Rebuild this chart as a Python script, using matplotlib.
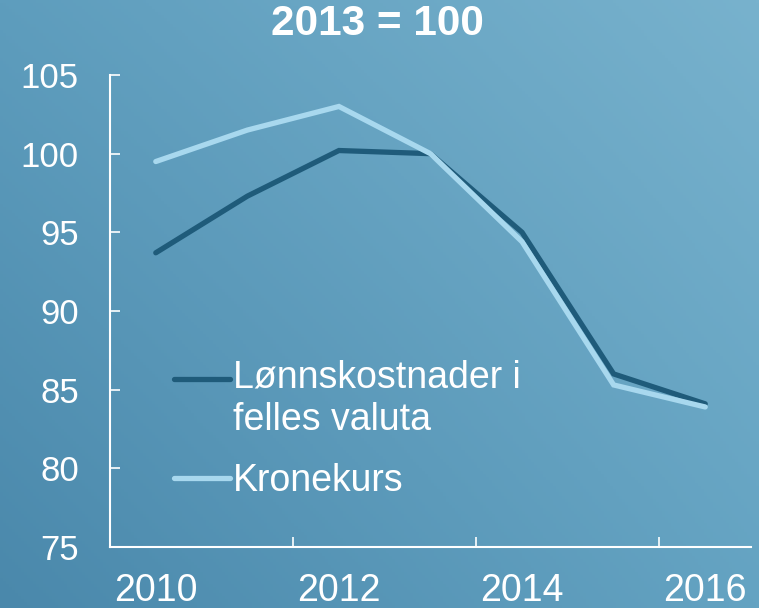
import numpy as np
import matplotlib
matplotlib.use("Agg")
import matplotlib.pyplot as plt
from matplotlib.legend_handler import HandlerLine2D
from matplotlib.colors import to_rgb

plt.rcParams['font.family'] = ['Liberation Sans', 'DejaVu Sans']

# ---- data ----
years = ["2010", "2011", "2012", "2013", "2014", "2015", "2016"]
lonnskost = [93.7, 97.3, 100.2, 100.0, 95.0, 86.0, 84.1]
kronekurs = [99.5, 101.5, 103.0, 100.0, 94.4, 85.3, 83.9]
series_labels = ["Lønnskostnader i\nfelles valuta", "Kronekurs"]
title = "2013 = 100"
yticks = [75, 80, 85, 90, 95, 100, 105]

dark = "#1F5B7A"
light = "#A8D8EE"
white = "white"

fig = plt.figure(figsize=(7.59, 6.08), dpi=100)

# background gradient
bg = fig.add_axes([0, 0, 1, 1], zorder=-10)
bg.set_axis_off()
tl, tr = np.array(to_rgb("#5E9DBD")), np.array(to_rgb("#78B2CD"))
bl, br = np.array(to_rgb("#4A88AB")), np.array(to_rgb("#64A3C2"))
ny, nx = 200, 250
u = np.linspace(0, 1, nx)[None, :, None]
v = np.linspace(0, 1, ny)[:, None, None]
img = (1 - v) * ((1 - u) * tl + u * tr) + v * ((1 - u) * bl + u * br)
bg.imshow(img, aspect='auto', extent=[0, 1, 0, 1], origin='upper')

ax = fig.add_axes([110/759, 61/608, 641/759, 472/608])
ax.set_facecolor('none')
x = np.arange(len(years))
l1, = ax.plot(x, lonnskost, color=dark, lw=3.8, solid_capstyle='round', solid_joinstyle='miter', zorder=3)
l2, = ax.plot(x, kronekurs, color=light, lw=3.8, solid_capstyle='round', solid_joinstyle='miter', zorder=4)

ax.set_xlim(-0.5, len(years) - 0.5)
ax.set_ylim(75, 105)
ax.set_yticks(yticks)
ax.set_yticklabels([str(t) for t in yticks])
ax.tick_params(axis='y', direction='in', length=7.5, width=1.2, colors=white,
               labelsize=25, pad=22.5)

# major ticks between category pairs, labels at every other category
ax.set_xticks([1.5, 3.5, 5.5])
ax.set_xticklabels([])
ax.set_xticks(x[::2], minor=True)
ax.set_xticklabels(years[::2], minor=True)
ax.tick_params(axis='x', which='major', direction='in', length=7.5, width=1.2, colors=white)
ax.tick_params(axis='x', which='minor', length=0, colors=white, labelsize=27, pad=18.5)

for s in ['top', 'right']:
    ax.spines[s].set_visible(False)
for s in ['left', 'bottom']:
    ax.spines[s].set_color(white)
    ax.spines[s].set_linewidth(1.5)


class OffsetLine(HandlerLine2D):
    def __init__(self, dy=0, **kw):
        super().__init__(**kw)
        self.dy = dy

    def create_artists(self, legend, orig_handle, xdescent, ydescent, width, height, fontsize, trans):
        arts = super().create_artists(legend, orig_handle, xdescent, ydescent, width, height, fontsize, trans)
        for a in arts:
            a.set_ydata(np.asarray(a.get_ydata(), dtype=float) + self.dy)
        return arts


leg = ax.legend([l1, l2], series_labels, loc='upper left', bbox_to_anchor=(0.076, 0.428),
                frameon=False, fontsize=27, handlelength=1.5, handletextpad=0.08,
                labelspacing=0.67, borderaxespad=0,
                handler_map={l1: OffsetLine(dy=14.8), l2: OffsetLine(dy=0)})
for t in leg.get_texts():
    t.set_color(white)
    t.set_linespacing(1.2)

fig.text(0.497, 0.9605, title, ha='center', va='center', fontsize=30.5,
         fontweight='bold', color=white)

fig.savefig("out.png", dpi=100)
